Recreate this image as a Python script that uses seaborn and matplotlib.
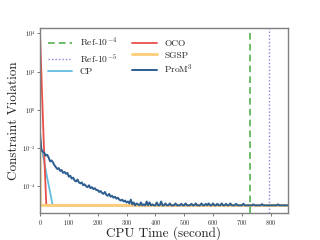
import matplotlib
matplotlib.use("Agg")
import matplotlib.pyplot as plt
import seaborn as sb
import numpy as np

# vertical reference times (seconds)
ref_times = [727, 794]
ref_labels = ["Ref-$10^{-4}$", "Ref-$10^{-5}$"]

# constraint violation, stored as log10 values
cp_time = [0, 7, 21, 44, 860]
cp_log = [-2.0, -2.1, -3.25, -5.0, -5.0]

oco_time = [0, 5, 10, 15, 22, 860]
oco_log = [4.0, 1.8, -0.4, -2.5, -5.0, -5.0]

sgsp_time = [0, 1, 860]
sgsp_log = [-2.0, -5.0, -5.0]

# ProM^3 sampled every 5 seconds, from t=0 to t=860
prom3_step = 5
prom3_log = [
    -1.2, -2.1, -2.2, -2.25, -2.4, -2.35, -2.5, -2.7, -2.65, -2.75,
    -2.9, -3.0, -3.1, -3.05, -3.2, -3.15, -3.3, -3.25, -3.35, -3.3,
    -3.5, -3.45, -3.6, -3.55, -3.7, -3.75, -3.65, -3.8, -3.85, -3.8,
    -3.95, -3.9, -4.0, -4.05, -3.95, -4.1, -4.05, -4.15, -4.1, -4.2,
    -4.2, -4.3, -4.25, -4.35, -4.4, -4.3, -4.45, -4.5, -4.4, -4.55,
    -4.5, -4.6, -4.55, -4.65, -4.6, -4.7, -4.75, -4.7, -4.8, -4.75,
    -4.85, -4.8, -4.9, -4.7, -4.95, -4.85, -5.0, -4.9, -4.95, -5.0,
    -4.85, -5.0, -4.95, -5.0, -4.8, -5.0, -4.85, -5.0, -4.95, -5.0,
    -5.0, -4.85, -5.0, -5.0, -4.8, -5.0, -5.0, -4.9, -5.0, -5.0,
    -4.9, -5.0, -5.0, -5.0, -4.9, -5.0, -5.0, -5.0, -4.92, -5.0,
    -5.0, -4.9, -5.0, -5.0, -5.0, -4.92, -5.0, -5.0, -4.9, -5.0,
    -5.0, -5.0, -4.9, -5.0, -5.0, -4.92, -5.0, -4.9, -5.0, -5.0,
    -4.9, -5.0, -5.0, -4.92, -5.0, -5.0, -4.9, -5.0, -5.0, -4.92,
    -5.0, -5.0, -4.9, -5.0, -5.0, -5.0, -4.92, -5.0, -5.0, -5.0,
    -5.0, -4.92, -5.0, -5.0, -5.0, -5.0, -5.0, -5.0, -4.95, -5.0,
    -5.0, -5.0, -5.0, -5.0, -4.94, -5.0, -5.0, -5.0, -5.0, -5.0,
    -5.0, -5.0, -5.0, -5.0, -5.0, -4.95, -5.0, -5.0, -5.0, -5.0,
    -5.0, -5.0, -5.0,
]
prom3_time = np.arange(len(prom3_log)) * prom3_step

sb.set_style("ticks")
plt.rcParams["font.family"] = ["cmr10"]
plt.rcParams["mathtext.fontset"] = "cm"
plt.rcParams["axes.formatter.use_mathtext"] = True

figure = plt.figure(figsize=(3.2, 2.4), dpi=100)
axis = figure.add_subplot()

axis.axvline(ref_times[0], color="#55b04f", linestyle=(0, (4, 2.5)), linewidth=1.2, label=ref_labels[0])
axis.axvline(ref_times[1], color="#8f80e0", linestyle=(0, (1, 1.5)), linewidth=1.0, label=ref_labels[1])

sb.lineplot(x=cp_time, y=10.0 ** np.array(cp_log), color="#62bde0", linewidth=1.3, label="CP", ax=axis)
sb.lineplot(x=oco_time, y=10.0 ** np.array(oco_log), color="#e8504a", linewidth=1.3, label="OCO", ax=axis)
sb.lineplot(x=sgsp_time, y=10.0 ** np.array(sgsp_log), color="#fdcd78", linewidth=2.0, label="SGSP", ax=axis)
sb.lineplot(x=prom3_time, y=10.0 ** np.array(prom3_log), color="#2d5e90", linewidth=1.4, label="ProM$^3$", ax=axis)

axis.set_yscale("log")
axis.set_xlim(0, 860)
axis.set_ylim(10 ** -5.42, 10 ** 4.28)
axis.set_yticks([1e4, 1e2, 1e0, 1e-2, 1e-4])
axis.minorticks_off()
axis.set_xticks([0, 100, 200, 300, 400, 500, 600, 700, 800])

for spine in axis.spines.values():
    spine.set_color("#808080")
    spine.set_linewidth(1.0)
axis.tick_params(labelsize=4.5, length=2, width=0.6, pad=1.0, color="#606060")

axis.set_xlabel("CPU Time (second)", fontsize=9.5, labelpad=0)
axis.set_ylabel("Constraint Violation", fontsize=9.5, labelpad=1)

axis.legend(loc="upper left", ncol=2, frameon=False, fontsize=6.8,
            handlelength=2.6, columnspacing=1.6, labelspacing=0.3,
            borderaxespad=0.4, handletextpad=0.8)

figure.subplots_adjust(left=0.125, right=0.9, bottom=0.111, top=0.883)
figure.savefig("out.png", dpi=100)
